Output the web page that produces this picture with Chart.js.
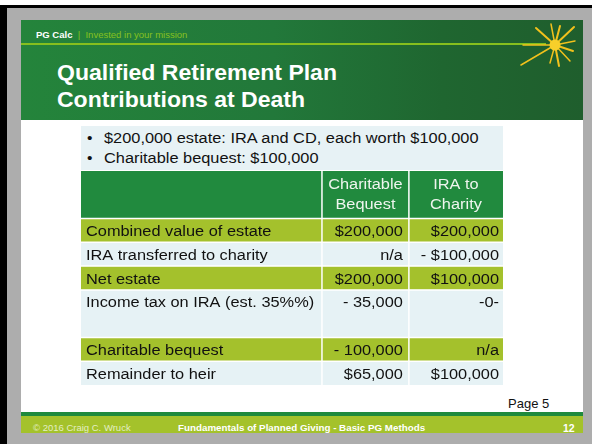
<!DOCTYPE html>
<html><head><meta charset="utf-8">
<script src="https://cdn.jsdelivr.net/npm/chart.js@4.4.0/dist/chart.umd.min.js"></script>
<style>
html,body{margin:0;padding:0;}
body{width:592px;height:444px;position:relative;overflow:hidden;background:#fff;font-family:"Liberation Sans",Arial,sans-serif;}
#frame{position:absolute;left:0;top:5px;width:592px;height:439px;background:#adadad;border-top:3px solid #000;border-left:7px solid #000;box-sizing:border-box;}
#slide{position:absolute;left:21px;top:20px;width:562px;height:413px;background:#fff;overflow:hidden;}
#head{position:absolute;left:0;top:0;width:562px;height:100px;background:linear-gradient(90deg,#24843b 0%,#22783a 45%,#1f6630 75%,#1f5e2d 100%);}
#brand{position:absolute;left:15px;top:9px;font-size:9.5px;line-height:12px;white-space:nowrap;}
#brand b{color:#fff;}
#brand span{color:#86c11f;}
#rule{position:absolute;left:0;top:23px;width:525px;height:2px;background:#86bf1e;}
#title{position:absolute;left:36px;top:40px;font-size:21.5px;line-height:27px;font-weight:bold;color:#fff;white-space:nowrap;transform:scaleX(1.07);transform-origin:0 0;}
#star{position:absolute;left:494px;top:-5px;}
#bullets{position:absolute;left:60px;top:106px;width:422px;height:44px;background:#e7f2f5;font-size:15.5px;line-height:20px;color:#111;}
.bl{position:absolute;left:0;white-space:nowrap;}
.bl i{position:absolute;left:6px;font-style:normal;}
.bl span{position:absolute;left:23px;transform:scaleX(1.055);transform-origin:0 0;}
#tablebox{position:absolute;left:60px;top:151px;width:422px;height:214px;}
#page{position:absolute;left:487px;top:376px;font-size:13px;line-height:16px;color:#111;}
#fbar1{position:absolute;left:0;top:392px;width:562px;height:4px;background:#1f8a3d;}
#fbar2{position:absolute;left:0;top:396px;width:562px;height:17px;background:#a4c22b;}
.ft{position:absolute;top:402px;font-size:9.5px;line-height:12px;white-space:nowrap;}
</style></head>
<body>
<div id="frame"></div>
<div id="slide">
  <div id="head"></div>
  <div id="brand"><b>PG Calc</b> <span>&nbsp;|&nbsp; Invested in your mission</span></div>
  <div id="rule"></div>
  <svg id="star" width="70" height="70" viewBox="0 0 70 70">
    <g stroke="#f2c11c" stroke-linecap="round">
      <line x1="40" y1="30" x2="21" y2="13" stroke-width="2"/>
      <line x1="40" y1="30" x2="36" y2="9" stroke-width="1.5"/>
      <line x1="40" y1="30" x2="45" y2="11" stroke-width="2"/>
      <line x1="40" y1="30" x2="59" y2="12" stroke-width="2"/>
      <line x1="40" y1="30" x2="60" y2="26" stroke-width="1.5"/>
      <line x1="40" y1="30" x2="58" y2="36" stroke-width="2"/>
      <line x1="40" y1="30" x2="55" y2="46" stroke-width="1.5"/>
      <line x1="40" y1="30" x2="44" y2="51" stroke-width="2"/>
      <line x1="40" y1="30" x2="35" y2="48" stroke-width="1.5"/>
      <line x1="40" y1="30" x2="6" y2="50" stroke-width="1.5"/>
      <line x1="40" y1="30" x2="8" y2="30" stroke-width="1.5"/>
    </g>
    <circle cx="40" cy="30" r="5.5" fill="#f7cf2a"/>
  </svg>
  <div id="title">Qualified Retirement Plan<br>Contributions at Death</div>
  <div id="bullets">
    <div class="bl" style="top:2px"><i>•</i><span>$200,000 estate: IRA and CD, each worth $100,000</span></div>
    <div class="bl" style="top:22px"><i>•</i><span>Charitable bequest: $100,000</span></div>
  </div>
  <div id="tablebox"><canvas id="c" width="422" height="214"></canvas></div>
  <div id="page">Page 5</div>
  <div id="fbar1"></div>
  <div id="fbar2"></div>
  <div class="ft" style="left:12px;color:#e3eec4;">© 2016 Craig C. Wruck</div>
  <div class="ft" style="left:157px;color:#fff;font-weight:bold;font-size:9.8px;">Fundamentals of Planned Giving - Basic PG Methods</div>
  <div class="ft" style="left:542px;color:#fff;font-weight:bold;font-size:10.5px;">12</div>
</div>
<script>
// ---- data ----
const columnHeaders = [['Charitable', 'Bequest'], ['IRA to', 'Charity']];
const rowLabels = ['Combined value of estate', 'IRA transferred to charity', 'Net estate', 'Income tax on IRA (est. 35%%)', 'Charitable bequest', 'Remainder to heir'];
const charitableBequest = ['$200,000', 'n/a', '$200,000', '- 35,000', '- 100,000', '$65,000'];
const iraToCharity = ['$200,000', '- $100,000', '$100,000', '-0-', 'n/a', '$100,000'];
const rowLines = [1, 1, 1, 2, 1, 1];   // text lines per body row
const headerLines = 2;

// ---- layout (not data) ----
const colEdges = [0, 0.571, 0.777, 1];
const totalUnits = headerLines + rowLines.reduce((a, b) => a + b, 0);
const SX = 1.055;

function txt(ctx, s, x, y, align) {
  const w = ctx.measureText(s).width * SX;
  let x0 = x;
  if (align === 'right') x0 = x - w;
  else if (align === 'center') x0 = x - w / 2;
  ctx.save();
  ctx.translate(x0, y);
  ctx.scale(SX, 1);
  ctx.textAlign = 'left';
  ctx.fillText(s, 0, 0);
  ctx.restore();
}

const tablePlugin = {
  id: 'tablePlugin',
  afterDraw(chart) {
    const ctx = chart.ctx, xs = chart.scales.x, ys = chart.scales.y;
    const X = v => xs.getPixelForValue(v), Y = v => ys.getPixelForValue(v);
    ctx.save();
    ctx.font = '15.5px "Liberation Sans", Arial, sans-serif';
    ctx.textBaseline = 'alphabetic';
    // header row
    ctx.fillStyle = '#218a3e';
    ctx.fillRect(X(0), Y(0), X(1) - X(0), Y(headerLines) - Y(0));
    ctx.fillStyle = '#eef5ee';
    columnHeaders.forEach((lines, ci) => {
      const cx = (X(colEdges[ci + 1]) + X(colEdges[ci + 2])) / 2;
      lines.forEach((t, li) => txt(ctx, t, cx, Y(0) + 17.5 + li * 20, 'center'));
    });
    let top = headerLines;
    const values = [charitableBequest, iraToCharity];
    rowLabels.forEach((lab, ri) => {
      const y0 = Y(top), y1 = Y(top + rowLines[ri]);
      ctx.fillStyle = ri % 2 === 0 ? '#a4c12c' : '#e6f2f5';
      ctx.fillRect(X(0), y0, X(1) - X(0), y1 - y0);
      ctx.fillStyle = '#111';
      txt(ctx, lab, X(0) + 5, y0 + 17.5, 'left');
      values.forEach((arr, ci) => {
        txt(ctx, arr[ri], X(colEdges[ci + 2]) - (ci === 0 ? 6 : 4), y0 + 17.5, 'right');
      });
      top += rowLines[ri];
    });
    // separators
    ctx.strokeStyle = '#ffffff';
    ctx.lineWidth = 1.5;
    ctx.beginPath();
    [1, 2].forEach(i => { ctx.moveTo(X(colEdges[i]), Y(0)); ctx.lineTo(X(colEdges[i]), Y(totalUnits)); });
    let acc = headerLines;
    ctx.moveTo(X(0), Y(acc)); ctx.lineTo(X(1), Y(acc));
    rowLines.forEach((n, i) => { acc += n; if (i < rowLines.length - 1) { ctx.moveTo(X(0), Y(acc)); ctx.lineTo(X(1), Y(acc)); } });
    ctx.stroke();
    ctx.restore();
  }
};

new Chart(document.getElementById('c'), {
  type: 'scatter',
  data: { datasets: [{ data: [] }] },
  options: {
    responsive: false,
    animation: false,
    devicePixelRatio: 1,
    layout: { padding: 0 },
    plugins: { legend: { display: false }, tooltip: { enabled: false } },
    scales: {
      x: { type: 'linear', min: 0, max: 1, display: false },
      y: { type: 'linear', min: 0, max: totalUnits, reverse: true, display: false }
    }
  },
  plugins: [tablePlugin]
});
</script>
</body></html>
